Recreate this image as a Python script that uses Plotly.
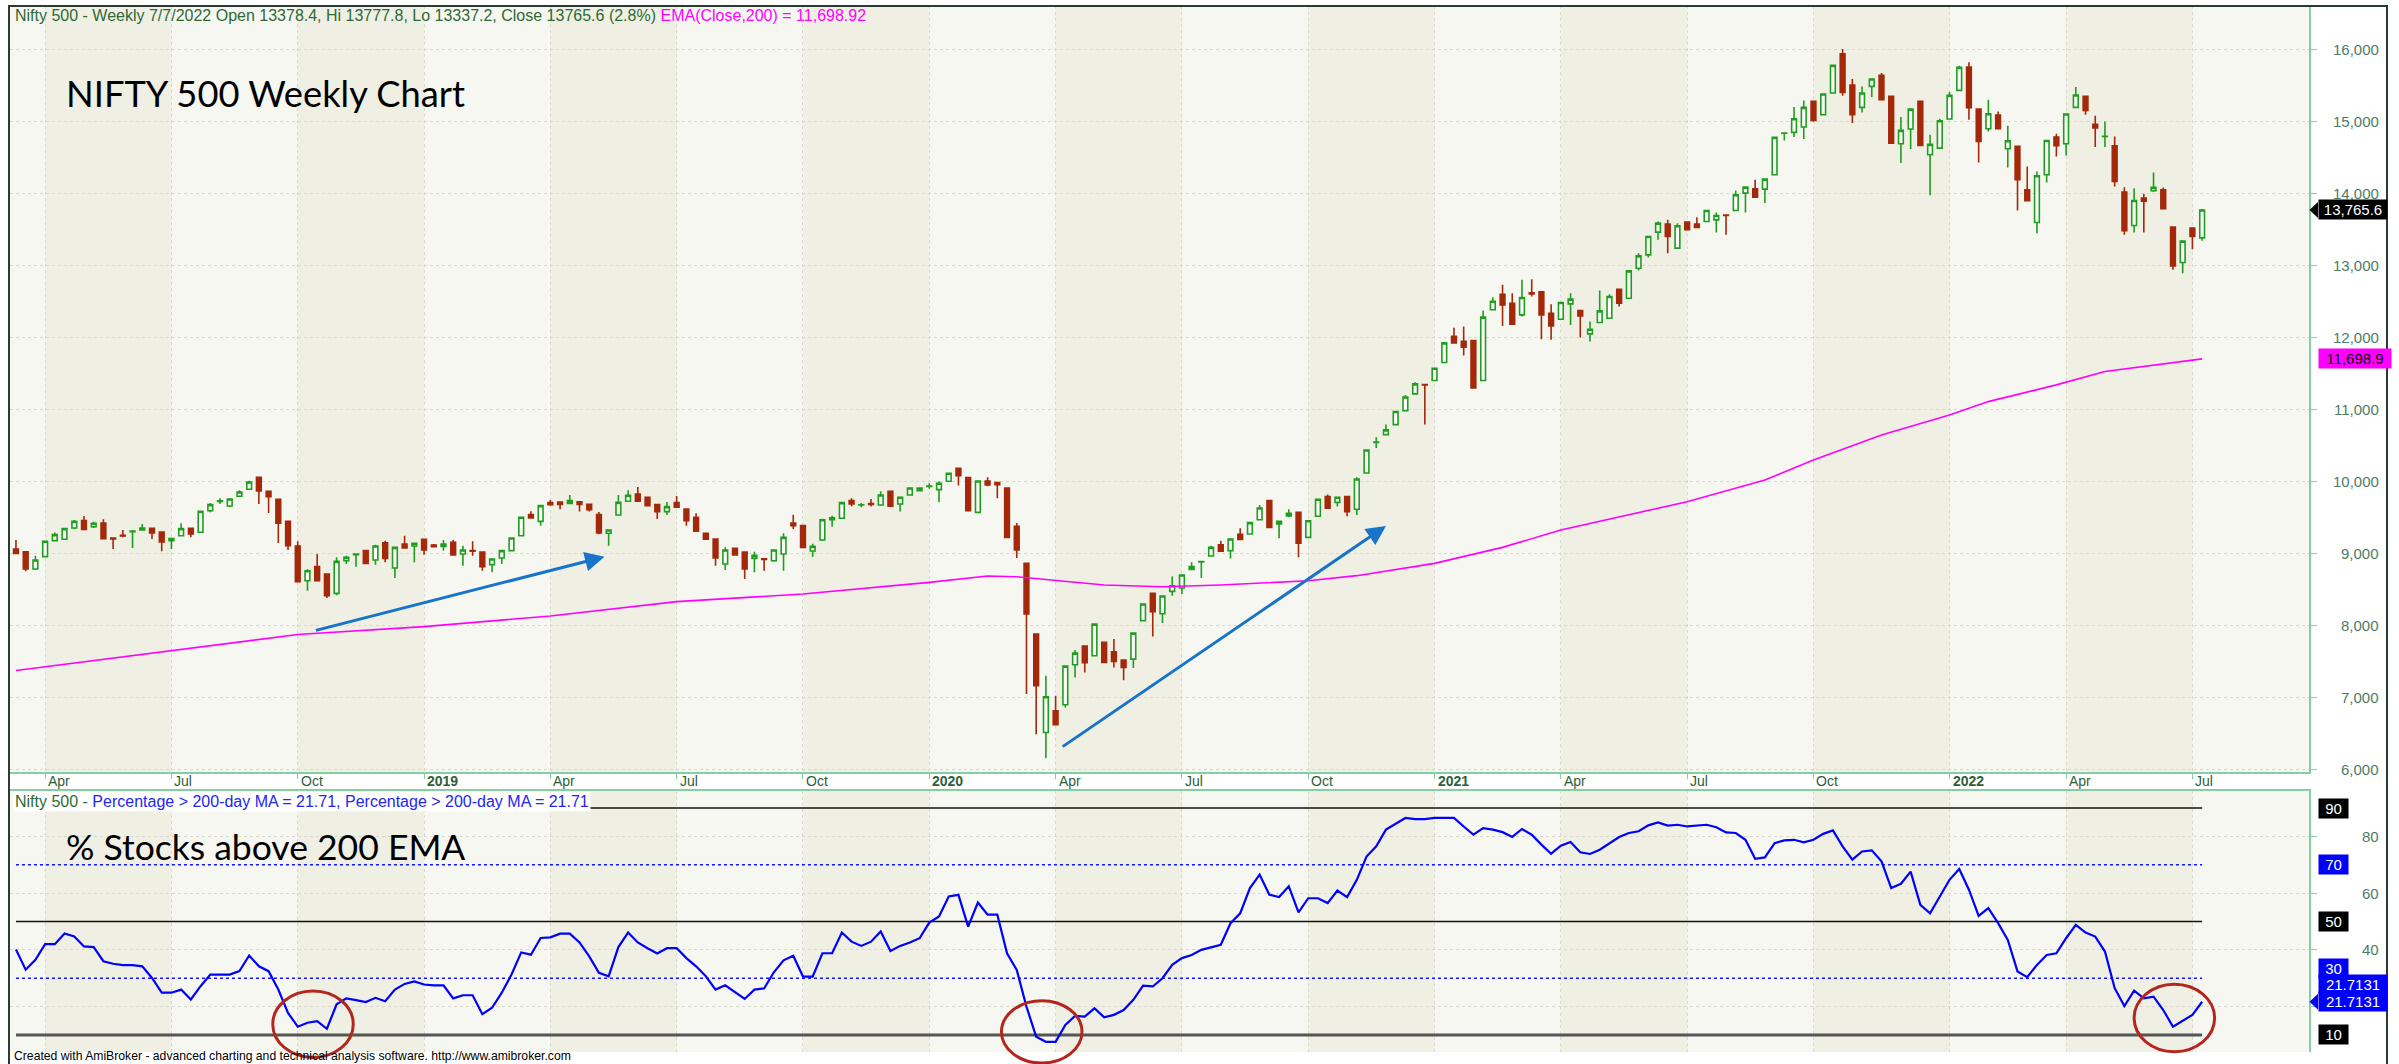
import plotly.graph_objects as go
import pandas as pd

W, H = 2399, 1064

# ---------------- data ----------------
dates = pd.date_range("2018-03-16", periods=226, freq="W-FRI")

opens = [9060, 9023, 8782, 8954, 9176, 9195, 9352, 9454, 9370, 9421,
         9213, 9250, 9300, 9324, 9347, 9296, 9176, 9245, 9347, 9292,
         9592, 9720, 9657, 9792, 9889, 10056, 9861, 9750, 9444, 9102,
         8620, 8815, 8713, 8444, 8898, 8980, 9037, 8907, 9148, 8796,
         9130, 9102, 9195, 9116, 9097, 9153, 8991, 9040, 9018, 8843,
         8935, 9037, 9245, 9537, 9444, 9704, 9713, 9694, 9717, 9680,
         9537, 9278, 9532, 9722, 9824, 9778, 9676, 9579, 9704, 9616,
         9500, 9278, 9200, 8852, 9069, 9018, 8930, 8925, 8898, 8991,
         9421, 9384, 9032, 9185, 9467, 9486, 9731, 9670, 9690, 9671,
         9861, 9685, 9810, 9870, 9930, 9884, 10000, 10180, 10051, 9569,
         10005, 9982, 9907, 9375, 8861, 7879, 6514, 6814, 6898, 7453,
         7713, 7578, 7764, 7634, 7518, 7532, 8065, 8444, 8162, 8472,
         8518, 8778, 8880, 8963, 9120, 9037, 9264, 9269, 9467, 9731,
         9407, 9518, 9569, 9222, 9514, 9787, 9708, 9787, 9611, 10116,
         10540, 10648, 10787, 10981, 11213, 11343, 11398, 11648, 12014, 11944,
         11954, 11398, 12380, 12597, 12472, 12310, 12615, 12630, 12333, 12250,
         12463, 12370, 12046, 12203, 12264, 12666, 12541, 12958, 13143, 13458,
         13569, 13236, 13597, 13569, 13606, 13629, 13694, 13759, 14000, 14060,
         14055, 14254, 14830, 14843, 14917, 15273, 15088, 15389, 15935, 15500,
         15190, 15481, 15634, 15343, 14685, 14889, 15273, 14532, 14625, 15028,
         15426, 15750, 15167, 14893, 15083, 14616, 14648, 14046, 13593, 14255,
         14778, 14685, 15190, 15343, 14954, 14785, 14657, 14014, 13551, 13930,
         14032, 14046, 13528, 13037, 13514, 13378.4]
highs = [9185, 9030, 8968, 9170, 9290, 9350, 9463, 9518, 9440, 9472,
         9215, 9324, 9312, 9407, 9352, 9300, 9210, 9417, 9352, 9590,
         9700, 9764, 9760, 9875, 10009, 10065, 9870, 9755, 9450, 9167,
         8780, 8991, 8720, 8944, 8968, 8995, 9045, 9120, 9176, 9090,
         9245, 9145, 9200, 9130, 9185, 9185, 9106, 9167, 9025, 8930,
         9045, 9220, 9505, 9583, 9670, 9741, 9720, 9810, 9725, 9685,
         9574, 9330, 9810, 9875, 9921, 9790, 9680, 9713, 9796, 9620,
         9555, 9285, 9205, 9083, 9075, 9023, 9023, 8930, 9050, 9278,
         9537, 9390, 9134, 9480, 9523, 9715, 9764, 9700, 9755, 9861,
         9865, 9785, 9910, 9912, 9972, 10000, 10115, 10185, 10055, 10010,
         10056, 9990, 9912, 9421, 8865, 7890, 7300, 7023, 7440, 7657,
         7720, 8020, 7770, 7810, 7525, 7895, 8300, 8450, 8410, 8680,
         8700, 8875, 8885, 9106, 9176, 9199, 9347, 9440, 9671, 9735,
         9445, 9611, 9575, 9455, 9752, 9815, 9790, 9792, 10056, 10440,
         10611, 10787, 10970, 11199, 11375, 11350, 11572, 11930, 12130, 12148,
         11960, 12370, 12555, 12727, 12611, 12796, 12805, 12640, 12458, 12490,
         12611, 12375, 12217, 12648, 12597, 12670, 12930, 13166, 13400, 13606,
         13629, 13583, 13600, 13666, 13765, 13731, 13700, 14037, 14090, 14185,
         14200, 14775, 14840, 15194, 15287, 15280, 15380, 15775, 16000, 15583,
         15481, 15590, 15667, 15350, 15055, 15170, 15280, 14810, 15032, 15403,
         15769, 15815, 15170, 15296, 15134, 14935, 14655, 14370, 14301, 14735,
         14824, 15100, 15472, 15350, 15074, 14995, 14787, 14083, 14069, 13991,
         14287, 14079, 13535, 13340, 13520, 13777.8]
lows = [8990, 8750, 8770, 8950, 9170, 9190, 9333, 9330, 9350, 9195,
        9060, 9222, 9074, 9320, 9200, 9028, 9060, 9240, 9222, 9290,
        9570, 9685, 9640, 9785, 9880, 9685, 9560, 9143, 9046, 8600,
        8481, 8610, 8380, 8420, 8852, 8815, 8855, 8843, 8875, 8657,
        9070, 8875, 8981, 9080, 9037, 8970, 8829, 8968, 8759, 8736,
        8852, 9030, 9240, 9485, 9384, 9660, 9611, 9690, 9579, 9580,
        9264, 9106, 9525, 9715, 9715, 9655, 9477, 9532, 9635, 9384,
        9300, 9190, 8829, 8768, 8970, 8643, 8736, 8759, 8884, 8759,
        9338, 9080, 8953, 9170, 9370, 9480, 9653, 9640, 9650, 9665,
        9650, 9579, 9800, 9860, 9898, 9708, 9995, 9940, 9590, 9560,
        9930, 9764, 9220, 8935, 7046, 6490, 6157, 6610, 6861, 7277,
        7347, 7570, 7480, 7417, 7240, 7407, 8060, 7847, 8032, 8412,
        8435, 8775, 8657, 8960, 9025, 8930, 9190, 9265, 9460, 9355,
        9208, 9500, 8944, 9218, 9510, 9620, 9650, 9514, 9532, 10110,
        10463, 10640, 10780, 10975, 11205, 10787, 11390, 11640, 11915, 11745,
        11290, 11390, 12375, 12157, 12170, 12287, 12565, 11972, 11963, 12240,
        12171, 11995, 11940, 12195, 12255, 12426, 12535, 12926, 13106, 13352,
        13166, 13230, 13485, 13518, 13600, 13454, 13421, 13755, 13731, 13940,
        13861, 14250, 14731, 14778, 14750, 14990, 15080, 15385, 15352, 14972,
        15120, 15333, 15290, 14690, 14417, 14611, 14655, 13970, 14620, 15020,
        15420, 15018, 14426, 14856, 14890, 14356, 13759, 13885, 13444, 14148,
        14509, 14523, 15185, 15088, 14639, 14639, 14092, 13421, 13454, 13454,
        14020, 13775, 12935, 12889, 13222, 13337.2]
closes = [9000, 8782, 8907, 9167, 9260, 9343, 9444, 9333, 9417, 9204,
          9200, 9240, 9310, 9352, 9282, 9157, 9204, 9343, 9268, 9583,
          9676, 9730, 9755, 9852, 9991, 9866, 9787, 9417, 9106, 8606,
          8759, 8620, 8412, 8889, 8944, 8990, 8861, 9102, 8930, 9083,
          9074, 9139, 9046, 9093, 9130, 8977, 9046, 9030, 8815, 8921,
          9037, 9213, 9500, 9490, 9662, 9676, 9680, 9731, 9680, 9606,
          9282, 9324, 9708, 9806, 9722, 9662, 9579, 9648, 9639, 9454,
          9306, 9195, 8935, 9046, 8977, 8782, 8972, 8915, 9046, 9222,
          9384, 9083, 9097, 9467, 9495, 9704, 9685, 9675, 9680, 9810,
          9653, 9778, 9907, 9907, 9935, 9972, 10111, 10079, 9593, 10005,
          9950, 9954, 9222, 9046, 8157, 7162, 7009, 6620, 7435, 7615,
          7481, 8018, 7486, 7500, 7416, 7893, 8296, 8190, 8407, 8551,
          8699, 8815, 8885, 9083, 9028, 9199, 9194, 9426, 9629, 9361,
          9444, 9555, 9139, 9453, 9750, 9625, 9778, 9579, 10032, 10435,
          10545, 10713, 10968, 11171, 11352, 11338, 11569, 11921, 11921, 11861,
          11296, 12278, 12500, 12449, 12180, 12551, 12601, 12310, 12157, 12481,
          12528, 12296, 12111, 12366, 12565, 12472, 12921, 13129, 13398, 13583,
          13398, 13546, 13491, 13523, 13759, 13689, 13689, 13977, 14083, 13944,
          14194, 14773, 14833, 15032, 15190, 15009, 15375, 15773, 15398, 15088,
          15389, 15583, 15296, 14694, 14870, 15166, 14662, 14676, 15005, 15356,
          15745, 15185, 14718, 15102, 14893, 14727, 14185, 13893, 14241, 14731,
          14657, 15097, 15361, 15148, 14903, 14790, 14162, 13477, 13898, 13889,
          14079, 13782, 12990, 13333, 13398, 13765.6]

# EMA(Close,200) at selected bars
ema_bar = [0, 29, 42, 55, 68, 81, 94, 100, 103, 107, 112, 118, 124, 133, 138,
           146, 151, 153, 159, 172, 180, 185, 192, 199, 203, 210, 215, 225]
ema_val = [7373, 7873, 7983, 8130, 8330, 8435, 8597, 8685, 8676, 8620, 8560, 8537,
           8560, 8620, 8690, 8861, 9022, 9083, 9323, 9717, 10018, 10296, 10643,
           10921, 11106, 11338, 11523, 11698.92]

# % of Nifty 500 stocks above 200-day MA (one value per weekly bar)
pct = [40.1, 33.0, 36.5, 42.0, 42.0, 45.8, 44.7, 41.2, 41.0, 36.0,
       35.1, 34.6, 34.6, 34.2, 30.1, 24.9, 24.9, 26.0, 22.5, 27.2,
       31.3, 31.3, 31.3, 32.5, 38.0, 34.2, 32.5, 26.0, 17.8, 12.9,
       14.3, 14.9, 12.2, 20.8, 22.9, 22.3, 21.6, 23.1, 21.9, 26.0,
       28.0, 28.9, 27.8, 27.5, 27.5, 22.9, 24.0, 24.0, 17.3, 19.6,
       24.9, 31.3, 39.1, 38.3, 44.2, 44.4, 45.7, 45.7, 42.6, 37.7,
       31.9, 30.7, 41.0, 46.1, 42.6, 40.6, 38.7, 40.6, 40.6, 37.1,
       34.2, 30.7, 26.0, 27.5, 25.1, 22.7, 26.0, 26.4, 32.1, 36.3,
       37.9, 30.6, 30.6, 38.8, 38.8, 46.1, 42.9, 41.4, 42.9, 46.5,
       39.6, 41.4, 42.6, 44.1, 49.6, 51.8, 58.8, 59.4, 48.2, 56.7,
       52.4, 52.4, 38.8, 32.9, 20.0, 9.4, 7.6, 7.6, 13.5, 16.7,
       16.5, 19.4, 16.2, 17.1, 18.8, 22.4, 27.4, 27.1, 30.0, 34.7,
       37.1, 38.2, 40.0, 40.9, 41.8, 49.4, 52.9, 61.8, 66.5, 59.4,
       58.6, 62.4, 53.2, 58.2, 58.2, 56.5, 60.9, 58.6, 64.7, 72.9,
       76.5, 82.4, 84.4, 86.5, 86.1, 86.1, 86.5, 86.5, 86.5, 83.5,
       80.6, 82.9, 82.4, 81.5, 79.8, 82.6, 80.6, 77.1, 73.9, 76.7,
       78.0, 74.4, 73.8, 75.3, 77.6, 79.8, 81.2, 81.8, 83.9, 84.9,
       83.8, 84.1, 83.5, 83.9, 84.1, 83.2, 81.4, 81.2, 78.8, 72.1,
       72.6, 77.6, 78.6, 78.8, 77.9, 78.8, 80.9, 82.1, 76.5, 71.8,
       74.7, 75.1, 71.2, 61.8, 63.3, 67.6, 55.9, 52.9, 58.6, 64.7,
       68.5, 61.2, 52.0, 54.7, 49.4, 43.5, 32.4, 30.4, 34.7, 38.2,
       38.8, 44.1, 48.8, 46.1, 44.7, 39.4, 26.5, 20.2, 25.6, 22.9,
       23.5, 18.8, 12.9, 15.1, 17.1, 21.71]
pct_last_label = "21.7131"

levels_black = [90, 50, 10]
levels_blue = [70, 30]
price_ticks = list(range(6000, 17000, 1000))
pct_ticks = [20, 40, 60, 80]
pct_labels = [80, 60, 40]

# annotation marks (circles on the breadth panel, arrows on the price panel)
circ_center = ["2018-10-16", "2020-03-24", "2022-06-18"]
circ_value = [13.8, 11.1, 16.0]
circ_ry = [11.7, 11.0, 11.9]
arrow_start = [("2018-10-17", 7926), ("2020-04-07", 6303)]
arrow_end = [("2019-05-14", 8953), ("2020-11-27", 9380)]

# ---------------- layout helpers ----------------
def py(ypx):
    return 1 - ypx / H

XD = [10 / W, 2309 / W]
Y1D = [py(772), py(6)]
Y2D = [py(1052), py(791)]
Y1R = [5965, 16597]
Y2R = [4, 96]
GREEN = "#86CFA3"
LIGHT = "#F7F7F1"
DARK = "#EFEFE4"
GRID = "#D8D8CC"
TXT = "#2F5E3A"
LBL = "#4D7B64"
FONT = "Liberation Sans, Arial, sans-serif"

x0 = dates[0] - pd.Timedelta(days=4.3)
x1 = dates[-1] + pd.Timedelta(days=77)

# quarter ticks at the first bar of Jan/Apr/Jul/Oct
tick_dates = []
for i, d in enumerate(dates):
    if i > 0 and d.month in (1, 4, 7, 10) and dates[i - 1].month != d.month:
        tick_dates.append(d)

def p2(v):
    return Y2D[0] + (v - Y2R[0]) / (Y2R[1] - Y2R[0]) * (Y2D[1] - Y2D[0])

fig = go.Figure()

fig.add_trace(go.Candlestick(
    x=dates, open=opens, high=highs, low=lows, close=closes,
    increasing=dict(line=dict(color="#1E9E1E", width=1.6), fillcolor="#FFFFFF"),
    decreasing=dict(line=dict(color="#A3290A", width=1.6), fillcolor="#A3290A"),
    whiskerwidth=0, xaxis="x", yaxis="y", hoverinfo="skip", showlegend=False))

fig.add_trace(go.Scatter(
    x=[dates[i] for i in ema_bar], y=ema_val, mode="lines",
    line=dict(color="#FF00FF", width=1.6), xaxis="x", yaxis="y", hoverinfo="skip"))

for lv in levels_black:
    fig.add_trace(go.Scatter(
        x=[dates[0], dates[-1]], y=[lv, lv], mode="lines",
        line=dict(color="#555555" if lv == 10 else "#111111", width=3 if lv == 10 else 1.4),
        xaxis="x2", yaxis="y2", hoverinfo="skip"))
for lv in levels_blue:
    fig.add_trace(go.Scatter(
        x=[dates[0], dates[-1]], y=[lv, lv], mode="lines",
        line=dict(color="#1515FF", width=1.6, dash="dot"),
        xaxis="x2", yaxis="y2", hoverinfo="skip"))

fig.add_trace(go.Scatter(
    x=dates, y=pct, mode="lines", line=dict(color="#0000FF", width=2.2),
    xaxis="x2", yaxis="y2", hoverinfo="skip"))

shapes = []
# quarter shading bands
bounds = [x0] + tick_dates + [x1]
for k in range(len(bounds) - 1):
    a, b = bounds[k], bounds[k + 1]
    if a.month in (4, 10) and k > 0:
        for dom in (Y1D, Y2D):
            shapes.append(dict(type="rect", xref="x", yref="paper", x0=a, x1=b,
                               y0=dom[0], y1=dom[1], fillcolor=DARK,
                               line=dict(width=0), layer="below"))
# red circles
for c, v, ry in zip(circ_center, circ_value, circ_ry):
    cd = pd.Timestamp(c)
    shapes.append(dict(type="circle", xref="x", yref="paper",
                       x0=cd - pd.Timedelta(days=29), x1=cd + pd.Timedelta(days=29),
                       y0=p2(v - ry), y1=p2(v + ry),
                       line=dict(color="#B3261E", width=3)))
# pointers of value boxes
def pointer(yref, v, dy, color):
    xa, xb = 2309.5 / W, 2318 / W
    return dict(type="path", xref="paper", yref=yref,
                path=f"M {xa},{v} L {xb},{v + dy} L {xb},{v - dy} Z",
                fillcolor=color, line=dict(width=0))
shapes.append(pointer("y", closes[-1], 8 / 0.07205, "#000000"))
shapes.append(pointer("y2", pct[-1], 8 / 2.8375, "#0000FF"))
# outer frame
shapes.append(dict(type="rect", xref="paper", yref="paper", x0=9 / W, x1=2387 / W,
                   y0=-0.05, y1=py(6), line=dict(color="#2B3A33", width=2)))

ann = []
# x tick labels
for d in tick_dates:
    txt = f"<b>{d.year}</b>" if d.month == 1 else d.strftime("%b")
    ann.append(dict(x=d, xref="x", y=py(781), yref="paper", text=txt, showarrow=False,
                    xanchor="left", yanchor="middle", xshift=1,
                    font=dict(family=FONT, size=14, color=TXT)))
# right y labels
for v in price_ticks:
    ann.append(dict(x=2381 / W, xref="paper", y=v, yref="y", text=f"{v:,}", showarrow=False,
                    xanchor="right", yanchor="middle",
                    font=dict(family=FONT, size=15, color=LBL)))
for v in pct_labels:
    ann.append(dict(x=2381 / W, xref="paper", y=v, yref="y2", text=str(v), showarrow=False,
                    xanchor="right", yanchor="middle",
                    font=dict(family=FONT, size=15, color=LBL)))

def box(y, yref, text, bg, fg, width=None, yshift=0):
    d = dict(x=2318 / W, xref="paper", y=y, yref=yref, text=text, showarrow=False,
             xanchor="left", yanchor="middle", bgcolor=bg, borderpad=1, yshift=yshift,
             font=dict(family=FONT, size=15, color=fg))
    if width:
        d["width"] = width
    return d

ann.append(box(closes[-1], "y", f"{closes[-1]:,.1f}", "#000000", "#FFFFFF", width=66))
ann.append(box(ema_val[-1], "y", f"{ema_val[-1]:,.1f}", "#FF00FF", "#000000", width=70))
for lv in levels_black:
    ann.append(box(lv, "y2", str(lv), "#000000", "#FFFFFF", width=27))
ann.append(box(70, "y2", "70", "#0000FF", "#FFFFFF", width=27))
ann.append(box(30, "y2", "30", "#0000FF", "#FFFFFF", width=27, yshift=10))
ann.append(box(pct[-1], "y2", pct_last_label, "#0000FF", "#FFFFFF", width=66))
ann.append(box(pct[-1], "y2", pct_last_label, "#0000FF", "#FFFFFF", width=66, yshift=17))

# header lines
ann.append(dict(x=13 / W, xref="paper", y=py(15), yref="paper", showarrow=False,
                xanchor="left", yanchor="middle",
                text=("<span style='color:#2E6A35'>Nifty 500 - Weekly 7/7/2022 Open 13378.4, Hi 13777.8, "
                      "Lo 13337.2, Close 13765.6 (2.8%)</span> "
                      "<span style='color:#FF00FF'>EMA(Close,200) = 11,698.92</span>"),
                font=dict(family=FONT, size=16)))
ann.append(dict(x=13 / W, xref="paper", y=py(801), yref="paper", showarrow=False,
                xanchor="left", yanchor="middle", bgcolor="#FFFFFF", borderpad=1,
                text=("<span style='color:#2E6A35'>Nifty 500 - </span>"
                      "<span style='color:#2525F0'>Percentage &gt; 200-day MA = 21.71, "
                      "Percentage &gt; 200-day MA = 21.71</span>"),
                font=dict(family=FONT, size=16)))
ann.append(dict(x=64 / W, xref="paper", y=py(93), yref="paper", showarrow=False,
                xanchor="left", yanchor="middle", text="NIFTY 500 Weekly Chart",
                font=dict(family="Lato, sans-serif", size=36.3, color="#000000")))
ann.append(dict(x=64 / W, xref="paper", y=py(846), yref="paper", showarrow=False,
                xanchor="left", yanchor="middle", text="% Stocks above 200 EMA",
                font=dict(family="Lato, sans-serif", size=35.5, color="#000000")))
ann.append(dict(x=12 / W, xref="paper", y=py(1056), yref="paper", showarrow=False,
                xanchor="left", yanchor="middle",
                text="Created with AmiBroker - advanced charting and technical analysis software. http://www.amibroker.com",
                font=dict(family=FONT, size=12.2, color="#000000")))
# blue arrows
for (sd, sv), (ed, ev) in zip(arrow_start, arrow_end):
    ann.append(dict(x=ed, y=ev, xref="x", yref="y", ax=sd, ay=sv, axref="x", ayref="y",
                    text="", showarrow=True, arrowhead=2, arrowsize=1.3, arrowwidth=3,
                    arrowcolor="#1874C8", standoff=0))

fig.update_layout(
    width=W, height=H, margin=dict(l=0, r=0, t=0, b=0),
    paper_bgcolor="#FFFFFF", plot_bgcolor=LIGHT, showlegend=False,
    xaxis=dict(domain=XD, anchor="y", type="date", range=[x0, x1], tickvals=tick_dates,
               showticklabels=False, ticks="outside", ticklen=5, tickcolor=GREEN,
               showgrid=True, gridcolor=GRID, griddash="dot", gridwidth=1,
               showline=True, linecolor=GREEN, linewidth=2, zeroline=False,
               rangeslider=dict(visible=False), fixedrange=True),
    yaxis=dict(domain=Y1D, anchor="x", range=Y1R, side="right", tickvals=price_ticks,
               showticklabels=False, ticks="outside", ticklen=6, tickcolor=GREEN,
               showgrid=True, gridcolor=GRID, griddash="dot", showline=True,
               linecolor=GREEN, linewidth=2, zeroline=False, fixedrange=True),
    xaxis2=dict(domain=XD, anchor="y2", type="date", matches="x", side="top",
                tickvals=tick_dates, showticklabels=False, ticks="",
                showgrid=True, gridcolor=GRID, griddash="dot",
                showline=True, linecolor=GREEN, linewidth=2, zeroline=False, fixedrange=True),
    yaxis2=dict(domain=Y2D, anchor="x2", range=Y2R, side="right", tickvals=pct_ticks,
                showticklabels=False, ticks="outside", ticklen=6, tickcolor=GREEN,
                showgrid=True, gridcolor=GRID, griddash="dot", showline=True,
                linecolor=GREEN, linewidth=2, zeroline=False, fixedrange=True),
    shapes=shapes, annotations=ann,
)

fig.write_html("out.html", config={"displayModeBar": False},
               post_script="document.body.style.margin='0';document.body.style.overflow='hidden';")
